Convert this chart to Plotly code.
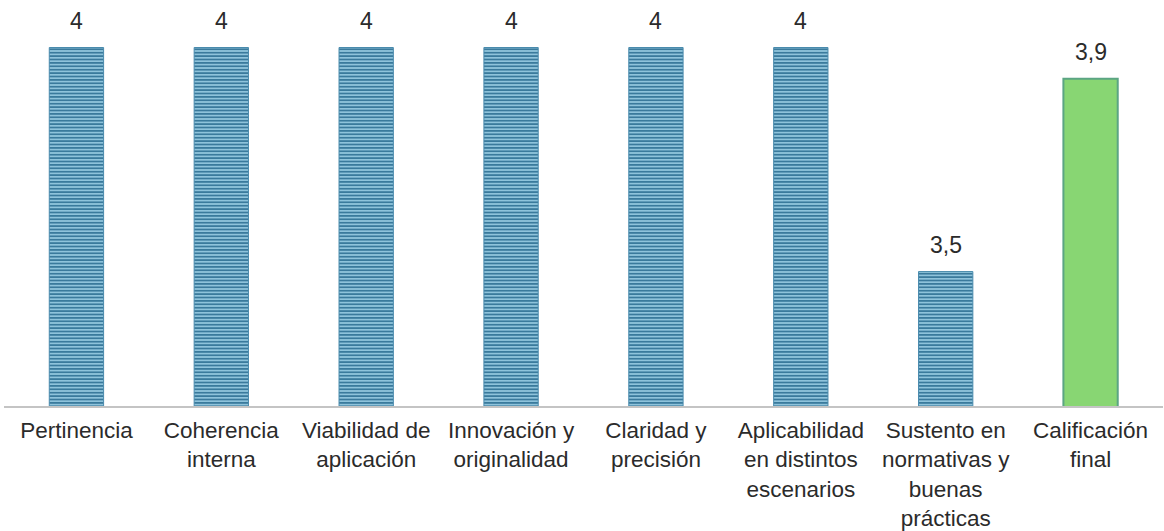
import plotly.graph_objects as go

categories = [
    "Pertinencia",
    "Coherencia<br>interna",
    "Viabilidad de<br>aplicación",
    "Innovación y<br>originalidad",
    "Claridad y<br>precisión",
    "Aplicabilidad<br>en distintos<br>escenarios",
    "Sustento en<br>normativas y<br>buenas<br>prácticas",
    "Calificación<br>final",
]
values = [4, 4, 4, 4, 4, 4, 3.5, 3.93]
is_final = [False, False, False, False, False, False, False, True]

x_idx = list(range(len(categories)))
labels = [f"{round(v, 1):g}".replace(".", ",") for v in values]

FONT = "Liberation Sans, Arial, sans-serif"
TXT = "#2b2b2b"
FS = 22.5

fig = go.Figure()

# criteria bars (striped)
crit_x = [i for i, f in zip(x_idx, is_final) if not f]
crit_y = [v for v, f in zip(values, is_final) if not f]
fig.add_trace(go.Bar(
    x=crit_x, y=crit_y, width=0.375,
    marker=dict(
        color="#8EC3DB",
        line=dict(color="#4A8BAD", width=1),
        pattern=dict(shape="-", fgcolor="#3A7A9C", bgcolor="#8EC3DB",
                     size=3.4, solidity=0.5, fillmode="replace"),
    ),
    hoverinfo="skip",
))

# final grade bar (green)
fin_x = [i for i, f in zip(x_idx, is_final) if f]
fin_y = [v for v, f in zip(values, is_final) if f]
fig.add_trace(go.Bar(
    x=fin_x, y=fin_y, width=0.375,
    marker=dict(color="#88D673", line=dict(color="#5BA583", width=2)),
    hoverinfo="skip",
))

for i, v, t in zip(x_idx, values, labels):
    fig.add_annotation(x=i, y=v, text=t, showarrow=False, yanchor="bottom",
                       yshift=12, font=dict(family=FONT, size=23, color=TXT))

fig.update_layout(
    width=1164, height=531,
    margin=dict(l=4, r=1, t=0, b=125, autoexpand=False),
    paper_bgcolor="white", plot_bgcolor="white",
    showlegend=False,
    barmode="overlay",
    font=dict(family=FONT, size=FS, color=TXT),
    xaxis=dict(
        tickmode="array", tickvals=x_idx, ticktext=categories,
        range=[-0.5, len(categories) - 0.5],
        showline=True, linecolor="#C4C4C4", linewidth=2,
        showgrid=False, zeroline=False, ticks="",
        automargin=False,
        ticklabelstandoff=3,
        tickfont=dict(family=FONT, size=FS, color=TXT),
    ),
    yaxis=dict(range=[3.2, 4.106], visible=False, showgrid=False, zeroline=False),
)

fig.write_html("out.html")
